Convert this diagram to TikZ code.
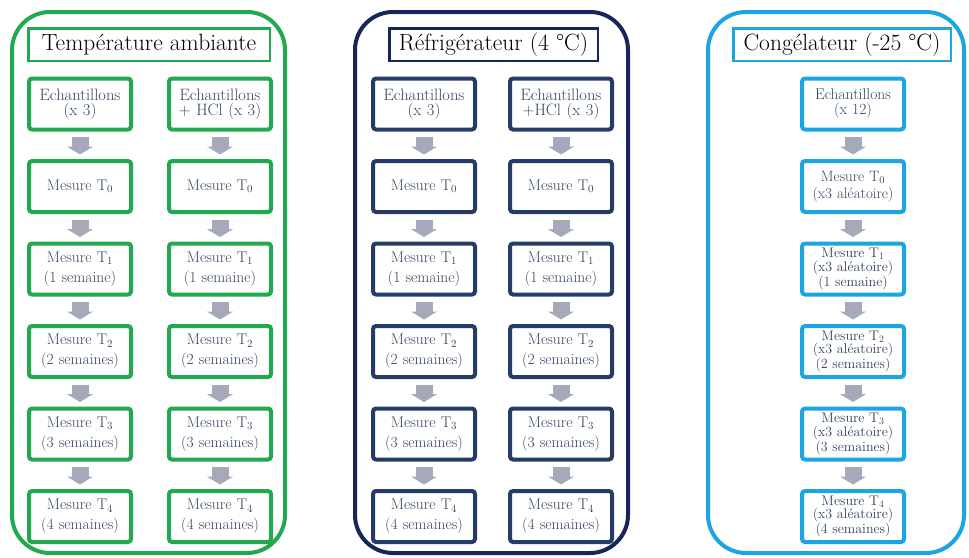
\documentclass[tikz,border=0pt]{standalone}
\usetikzlibrary{arrows.meta}
\definecolor{cgreen}{RGB}{34,168,78}
\definecolor{cnavy}{RGB}{22,38,90}
\definecolor{cnavybox}{RGB}{38,60,104}
\definecolor{ccyan}{RGB}{27,165,226}
\definecolor{carrow}{RGB}{166,169,186}
\definecolor{ctext}{RGB}{52,68,96}
\begin{document}
\begin{tikzpicture}[x=1pt,y=-1pt,
  panel/.style={draw, line width=4pt, rounded corners=38pt, inner sep=0pt},
  titlebox/.style={draw, line width=2.5pt, minimum height=32.5pt, inner sep=0pt, text=black, font=\fontsize{23.5}{26}\selectfont},
  box/.style={draw, line width=4pt, rounded corners=3pt, minimum width=102pt, minimum height=51pt, text width=100pt, align=center, inner sep=0pt, text=ctext, font=\fontsize{15.5}{20}\selectfont},
  ebox/.style={box, font=\fontsize{16.5}{15}\selectfont},
  cbox/.style={box, font=\fontsize{14}{13.8}\selectfont},
  flow/.style={draw=carrow, line width=17pt, -{Triangle[width=26pt,length=8pt]}, shorten <=5.5pt, shorten >=4.5pt}]
\useasboundingbox (0,0) rectangle (969,557);
% panels
\node[panel, draw=cgreen, minimum width=273pt, minimum height=541pt] (p1) at (148.5,282.5) {};
\node[panel, draw=cnavy, minimum width=273pt, minimum height=541pt] (p2) at (491.5,282.5) {};
\node[panel, draw=ccyan, minimum width=256pt, minimum height=541pt] (p3) at (836,282.5) {};
% titles
\node[titlebox, draw=cgreen, minimum width=241.5pt] (t1) at (149,44.5) {Température ambiante};
\node[titlebox, draw=cnavy, minimum width=208.5pt] (t2) at (493.5,44.5) {Réfrigérateur (4 °C)};
\node[titlebox, draw=ccyan, minimum width=217.5pt] (t3) at (842,44.5) {Congélateur (-25 °C)};
% first row
\node[ebox, draw=cgreen] (e1a) at (80,104) {Echantillons\\(x 3)};
\node[ebox, draw=cgreen] (e1b) at (220,104) {Echantillons\\+ HCl (x 3)};
\node[ebox, draw=cnavybox] (e2a) at (424,104) {Echantillons\\(x 3)};
\node[ebox, draw=cnavybox] (e2b) at (561,104) {Echantillons\\+HCl (x 3)};
% columns of panels 1 and 2
\foreach \P/\x/\bc in {1a/80/cgreen, 1b/220/cgreen, 2a/424/cnavybox, 2b/561/cnavybox} {
  \node[box, draw=\bc] (m\P0) at (\x,186.5) {Mesure T\textsubscript{0}};
  \node[box, draw=\bc] (m\P1) at (\x,269) {Mesure T\textsubscript{1}\\(1 semaine)};
  \node[box, draw=\bc] (m\P2) at (\x,351.5) {Mesure T\textsubscript{2}\\(2 semaines)};
  \node[box, draw=\bc] (m\P3) at (\x,434) {Mesure T\textsubscript{3}\\(3 semaines)};
  \node[box, draw=\bc] (m\P4) at (\x,516.5) {Mesure T\textsubscript{4}\\(4 semaines)};
  \draw[flow] (e\P) -- (m\P0);
  \draw[flow] (m\P0) -- (m\P1);
  \draw[flow] (m\P1) -- (m\P2);
  \draw[flow] (m\P2) -- (m\P3);
  \draw[flow] (m\P3) -- (m\P4);
}
% panel 3
\node[ebox, draw=ccyan, font=\fontsize{15.5}{15}\selectfont] (e3) at (853,104) {Echantillons\\(x 12)};
\node[cbox, draw=ccyan, font=\fontsize{15}{17}\selectfont] (m30) at (853,186.5) {Mesure T\textsubscript{0}\\(x3 aléatoire)};
\node[cbox, draw=ccyan] (m31) at (853,269) {Mesure T\textsubscript{1}\\(x3 aléatoire)\\(1 semaine)};
\node[cbox, draw=ccyan] (m32) at (853,351.5) {Mesure T\textsubscript{2}\\(x3 aléatoire)\\(2 semaines)};
\node[cbox, draw=ccyan] (m33) at (853,434) {Mesure T\textsubscript{3}\\(x3 aléatoire)\\(3 semaines)};
\node[cbox, draw=ccyan] (m34) at (853,516.5) {Mesure T\textsubscript{4}\\(x3 aléatoire)\\(4 semaines)};
\draw[flow] (e3) -- (m30);
\draw[flow] (m30) -- (m31);
\draw[flow] (m31) -- (m32);
\draw[flow] (m32) -- (m33);
\draw[flow] (m33) -- (m34);
\end{tikzpicture}
\end{document}
